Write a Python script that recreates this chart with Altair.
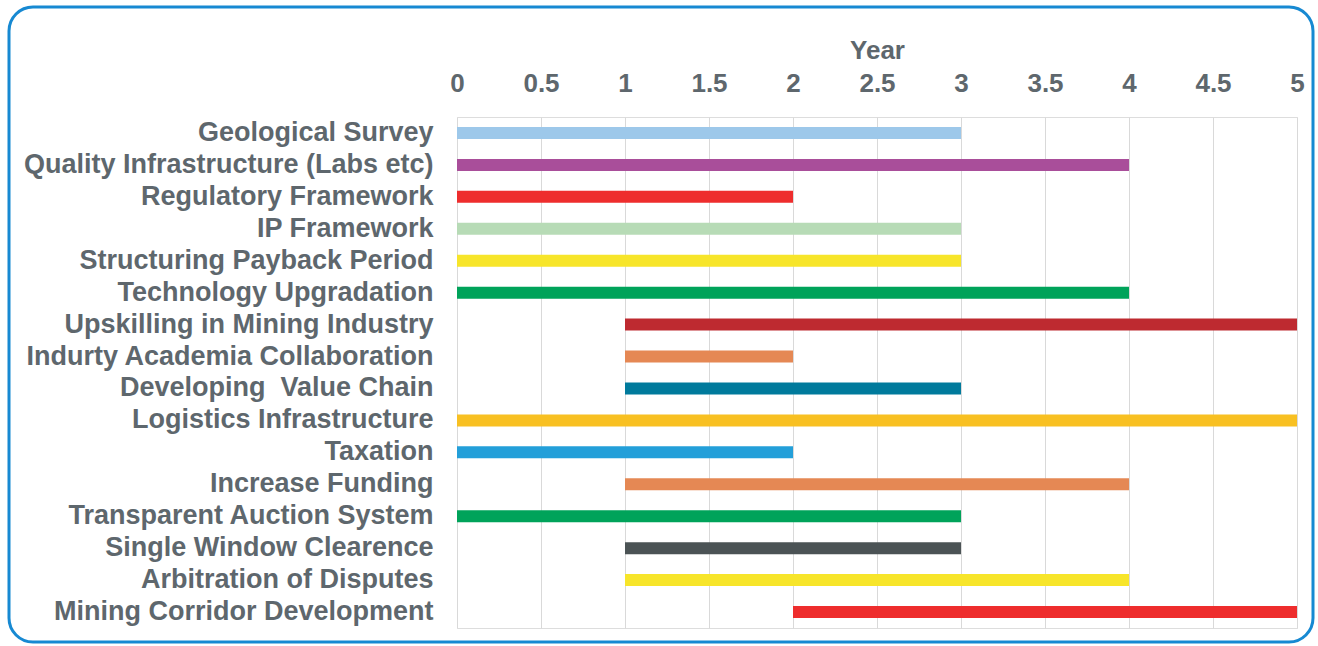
import altair as alt
import pandas as pd

tasks = [
    "Geological Survey",
    "Quality Infrastructure (Labs etc)",
    "Regulatory Framework",
    "IP Framework",
    "Structuring Payback Period",
    "Technology Upgradation",
    "Upskilling in Mining Industry",
    "Indurty Academia Collaboration",
    "Developing  Value Chain",
    "Logistics Infrastructure",
    "Taxation",
    "Increase Funding",
    "Transparent Auction System",
    "Single Window Clearence",
    "Arbitration of Disputes",
    "Mining Corridor Development",
]
starts = [0, 0, 0, 0, 0, 0, 1, 1, 1, 0, 0, 1, 0, 1, 1, 2]
ends = [3, 4, 2, 3, 3, 4, 5, 2, 3, 5, 2, 4, 3, 3, 4, 5]
colors = [
    "#9DC8EA", "#A94E9A", "#EE2D2D", "#B7DBB6", "#F7E52A", "#00A35A",
    "#BE2A30", "#E58854", "#007A9C", "#F8C022", "#239FD9", "#E58854",
    "#00A35A", "#4B5355", "#F7E52A", "#EE2D2D",
]
x_ticks = [0, 0.5, 1, 1.5, 2, 2.5, 3, 3.5, 4, 4.5, 5]

df = pd.DataFrame({"task": tasks, "start": starts, "end": ends})

TEXT = "#5E676D"
FONT = "Liberation Sans"

bars = alt.Chart(df).mark_bar(height=12).encode(
    y=alt.Y("task:N", sort=tasks, title=None,
            axis=alt.Axis(labelFontSize=27, labelFont=FONT, labelFontWeight="bold",
                          labelColor=TEXT, labelPadding=24, ticks=False, domain=False,
                          grid=False, labelLimit=600,
                          labelExpr="replace(datum.label, '  ', ' \u00a0')")),
    x=alt.X("start:Q", title="Year",
            scale=alt.Scale(domain=[0, 5], nice=False),
            axis=alt.Axis(orient="top", values=x_ticks, format="~g", labelFontSize=26,
                          labelFont=FONT, labelFontWeight="bold", labelColor=TEXT,
                          labelPadding=21, ticks=False, domain=False, grid=True,
                          gridColor="#D9D9D9", gridWidth=1, titleFontSize=26,
                          titleFont=FONT, titleFontWeight="bold", titleColor=TEXT,
                          titlePadding=7, labelFlush=False)),
    x2="end:Q",
    color=alt.Color("task:N", scale=alt.Scale(domain=tasks, range=colors), legend=None),
)

border = alt.Chart(pd.DataFrame({"a": [0]})).mark_rect(
    fill=None, stroke="#1789D2", strokeWidth=3, cornerRadius=24, clip=False
).encode(
    x=alt.value(-448), x2=alt.value(856), y=alt.value(-110), y2=alt.value(525)
)

chart = alt.layer(bars, border).properties(
    width=840, height=511,
    autosize=alt.AutoSizeParams(type="none"),
    padding={"left": 457, "top": 117, "right": 21, "bottom": 18},
).configure_view(stroke=None).configure(background="white")

chart.save("out.html", embed_options={"renderer": "svg", "actions": False})
